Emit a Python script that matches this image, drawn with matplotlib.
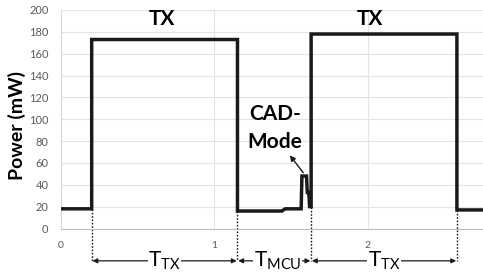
import matplotlib
matplotlib.use("Agg")
import matplotlib.pyplot as plt

plt.rcParams['font.family'] = ['Lato', 'DejaVu Sans']
plt.rcParams['mathtext.fontset'] = 'custom'
plt.rcParams['mathtext.rm'] = 'Lato'
plt.rcParams['mathtext.it'] = 'Lato'

# Power trace (time in arbitrary units, power in mW)
time = [0.00, 0.20, 0.20, 1.15, 1.15, 1.44, 1.46, 1.565, 1.57, 1.60, 1.605, 1.615, 1.62, 1.63, 1.63, 2.58, 2.58, 2.75]
power = [18, 18, 173, 173, 16, 16, 18, 18, 48, 48, 33, 33, 20, 20, 178, 178, 17, 17]

yticks = [0, 20, 40, 60, 80, 100, 120, 140, 160, 180, 200]
xticks = [0, 1, 2]

# phase boundaries and labels
bounds = [0.20, 1.15, 1.63, 2.58]
phase_labels = [r'$\mathrm{T}_{\mathrm{TX}}$', r'$\mathrm{T}_{\mathrm{MCU}}$', r'$\mathrm{T}_{\mathrm{TX}}$']
bound_levels = [18, 16, 20, 17]

fig = plt.figure(figsize=(4.83, 2.75), dpi=100)
ax = fig.add_axes([61/483, 1-228.5/275, 1-61/483, 218.5/275])

ax.plot(time, power, color='#1a1a1a', lw=2.5, solid_joinstyle='miter', zorder=3)

ax.set_xlim(0, 2.75)
ax.set_ylim(0, 200)
ax.set_yticks(yticks)
ax.set_xticks(xticks)
ax.grid(True, color='#e3e3e3', lw=0.8)
ax.set_axisbelow(True)
for s in ['top', 'right']:
    ax.spines[s].set_visible(False)
ax.spines['left'].set_color('#d9d9d9')
ax.spines['bottom'].set_color('#bfbfbf')
ax.tick_params(axis='both', length=0, colors='#595959')
ax.tick_params(axis='y', labelsize=8, pad=9)
ax.tick_params(axis='x', labelsize=7.5, pad=9)

ax.set_ylabel('Power (mW)', fontsize=14, fontweight='bold', color='black')
ax.yaxis.set_label_coords(-0.084, 0.47)

ax.text(0.66, 192, 'TX', fontsize=15, fontweight='bold', ha='center', va='center')
ax.text(2.01, 192, 'TX', fontsize=15, fontweight='bold', ha='center', va='center')
ax.text(1.395, 105, 'CAD-', fontsize=15, fontweight='bold', ha='center', va='center')
ax.text(1.395, 79, 'Mode', fontsize=15, fontweight='bold', ha='center', va='center')
ax.annotate('', xy=(1.48, 69), xytext=(1.59, 49),
            arrowprops=dict(arrowstyle='-|>', color='#1a1a1a', lw=1.0, mutation_scale=8))

trans = ax.get_xaxis_transform()
yarrow = -0.148
for b, lv in zip(bounds, bound_levels):
    ax.plot([b, b], [lv/200, yarrow], transform=trans, color='#1a1a1a',
            lw=1.0, ls=(0, (1.2, 1.2)), clip_on=False)
for i, lab in enumerate(phase_labels):
    x0, x1 = bounds[i] + 0.005, bounds[i+1] - 0.005
    ax.annotate('', xy=(x0, yarrow), xytext=(x1, yarrow), xycoords=trans, textcoords=trans,
                arrowprops=dict(arrowstyle='<|-|>', color='#1a1a1a', lw=0.9,
                                mutation_scale=7, shrinkA=0, shrinkB=0), annotation_clip=False)
    ax.text((bounds[i] + bounds[i+1]) / 2 + (0.02 if i == 1 else 0), yarrow, lab,
            transform=trans, fontsize=15, ha='center', va='center',
            bbox=dict(facecolor='white', edgecolor='none', pad=0.5), clip_on=False)

fig.savefig('out.png', dpi=100)
